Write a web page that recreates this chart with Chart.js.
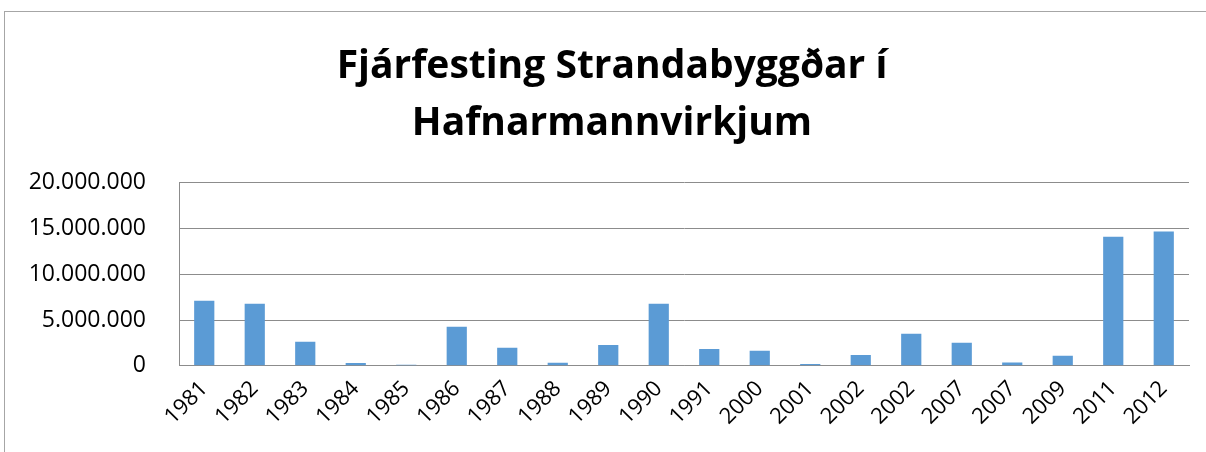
<!DOCTYPE html>
<html>
<head>
<meta charset="utf-8">
<script src="https://cdn.jsdelivr.net/npm/chart.js@4.4.0/dist/chart.umd.min.js"></script>
<style>
    html, body { margin: 0; padding: 0; background: #fff; overflow: hidden; }
    #frame {
        position: absolute; left: 4px; top: 11px;
        width: 1300px; height: 500px;
        border: 1px solid #a6a6a6;
    }
    #wrap { position: absolute; left: 0; top: 0; width: 1206px; height: 452px; }
</style>
</head>
<body>
<div id="frame"></div>
<div id="wrap"><canvas id="investChart" width="1206" height="452"></canvas></div>
<script>
// chart data
const years = ['1981', '1982', '1983', '1984', '1985', '1986', '1987', '1988', '1989', '1990',
    '1991', '2000', '2001', '2002', '2002', '2007', '2007', '2009', '2011', '2012'];
const amounts = [7120000, 6790000, 2630000, 290000, 110000, 4270000, 1970000, 330000, 2260000, 6790000,
    1820000, 1640000, 180000, 1170000, 3500000, 2520000, 360000, 1090000, 14120000, 14670000];
const yTicks = [0, 5000000, 10000000, 15000000, 20000000];
const chartTitle = ['Fjárfesting Strandabyggðar í', 'Hafnarmannvirkjum'];

function formatIs(v) {
    // thousands separated with dots, like 20.000.000
    return String(v).replace(/\B(?=(\d{3})+(?!\d))/g, '.');
}

const gridColor = '#8c8c8c';

// the title in the original sits centred on the whole frame, a bit right of the plot
const titleShift = {
    id: 'titleShift',
    afterLayout(chart) {
        if (chart.titleBlock) {
            chart.titleBlock.left += 10;
        }
    }
};

const ctx = document.getElementById('investChart').getContext('2d');
new Chart(ctx, {
    type: 'bar',
    data: {
        labels: years,
        datasets: [{
            label: 'Fjárfesting',
            data: amounts,
            backgroundColor: '#5B9BD5',
            barPercentage: 0.4,
            categoryPercentage: 1.0
        }]
    },
    options: {
        responsive: false,
        animation: false,
        layout: {
            padding: { left: 25, right: 17, top: 0, bottom: 12 }
        },
        scales: {
            y: {
                min: 0,
                max: yTicks[yTicks.length - 1],
                afterBuildTicks: (axis) => {
                    axis.ticks = yTicks.map(v => ({ value: v }));
                },
                afterFit: (axis) => { axis.width = 154; },
                grid: {
                    color: gridColor,
                    lineWidth: 1,
                    drawTicks: false
                },
                border: { display: true, color: gridColor, width: 1 },
                ticks: {
                    padding: 33,
                    color: '#000',
                    font: { family: '"Open Sans", sans-serif', size: 23 },
                    callback: (v) => formatIs(v)
                }
            },
            x: {
                grid: { display: false, drawTicks: false },
                border: { display: true, color: gridColor, width: 1 },
                ticks: {
                    minRotation: 45,
                    maxRotation: 45,
                    autoSkip: false,
                    padding: 10,
                    color: '#000',
                    font: { family: '"Open Sans", sans-serif', size: 22 }
                }
            }
        },
        plugins: {
            legend: { display: false },
            tooltip: { enabled: false },
            title: {
                display: true,
                text: chartTitle,
                color: '#000',
                font: { family: '"Open Sans", sans-serif', size: 39, weight: 'bold', lineHeight: 1.46 },
                padding: { top: 38, bottom: 31 }
            }
        }
    },
    plugins: [titleShift]
});
</script>
</body>
</html>
